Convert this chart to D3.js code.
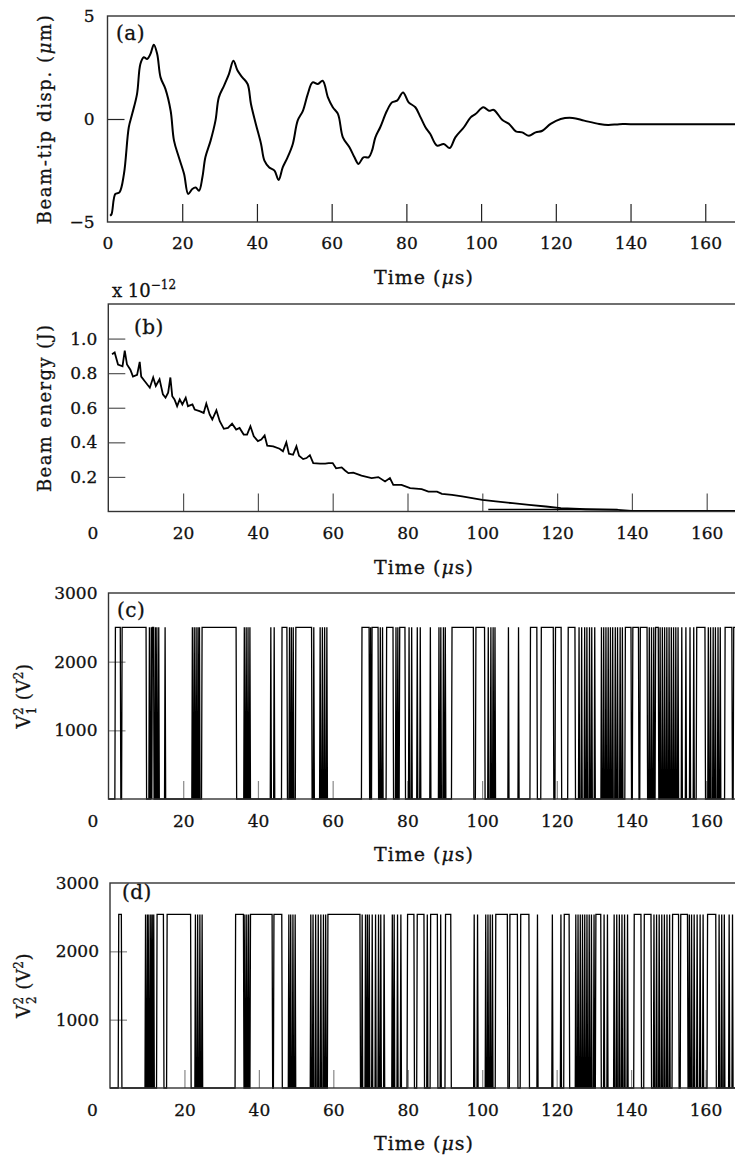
<!DOCTYPE html>
<html>
<head>
<meta charset="utf-8">
<script src="https://cdn.jsdelivr.net/npm/d3@7"></script>
<style>
  body { margin: 0; background: #fff; }
  svg { display: block; }
  text { font-family: "DejaVu Serif", serif; fill: #111; stroke: #111; stroke-width: 0.3; }
</style>
</head>
<body>
<div id="chart"></div>
<script>
// ---- data ----
var xTicks = [0, 20, 40, 60, 80, 100, 120, 140, 160];

// (a) beam-tip displacement (um) vs time (us)
var dispTime = [0.7, 1.1, 2.1, 3.2, 4.4, 5.7, 6.6, 7.9, 8.8, 9.7,
    10.6, 11.5, 12.4, 13.3, 14.2, 15.5, 16.9, 17.8, 19.1, 20.5,
    21.6, 22.7, 23.6, 24.5, 25.4, 26.2, 27.6, 28.9, 29.8, 31.2,
    32.5, 33.7, 34.8, 36.1, 37.5, 38.4, 39.7, 41.1, 42.0, 43.3,
    44.7, 45.8, 46.9, 48.2, 49.6, 50.9, 52.3, 53.6, 54.9, 56.3,
    57.6, 59.0, 60.3, 61.7, 63.0, 64.8, 66.1, 67.2, 68.5, 69.9,
    70.8, 71.7, 73.0, 74.8, 76.2, 77.5, 79.1, 80.6, 82.4, 83.8,
    85.1, 86.4, 88.2, 90.0, 91.6, 93.1, 95.4, 97.2, 98.5, 100.6,
    102.1, 103.4, 105.7, 107.5, 109.3, 111.0, 112.8, 114.6, 116.4, 118.6,
    121.3, 124.5, 127.6, 131.6, 134.0, 137.0, 140, 180];
var dispVal = [-4.7, -4.61, -3.64, -3.56, -2.67, -0.40, 0.24, 1.21, 2.67, 3.0,
    2.91, 3.16, 3.61, 3.16, 2.02, 1.46, 0.40, -1.05, -1.86, -2.67,
    -3.64, -3.40, -3.33, -3.48, -2.83, -1.86, -1.05, -0.08, 1.05, 1.62,
    2.18, 2.83, 2.35, 2.02, 1.70, 0.73, -0.24, -1.21, -2.02, -2.35,
    -2.51, -2.96, -2.35, -1.86, -1.21, -0.08, 0.40, 1.21, 1.78, 1.70,
    1.86, 1.05, 0.57, 0.24, -0.89, -1.38, -1.86, -2.18, -1.86, -1.86,
    -1.54, -0.89, -0.40, 0.40, 0.81, 0.89, 1.29, 0.81, 0.57, 0.08,
    -0.40, -0.73, -1.29, -1.21, -1.41, -0.89, -0.40, 0.08, 0.24, 0.57,
    0.40, 0.44, -0.05, -0.24, -0.60, -0.65, -0.81, -0.65, -0.57, -0.24,
    0.0, 0.05, -0.08, -0.24, -0.29, -0.25, -0.25, -0.25];
var dispTicks = [-5, 0, 5];

// (b) beam energy (x 1e-12 J)
var energyTime = [1.0, 1.7, 2.6, 3.8, 4.4, 5.0, 5.9, 6.6, 7.7, 8.4,
    8.8, 9.7, 11.1, 12.0, 12.7, 13.7, 14.6, 15.3, 16.0, 16.6,
    17.1, 17.7, 18.4, 19.1, 19.8, 20.7, 21.3, 22.5, 23.1, 24.4,
    25.5, 26.2, 27.1, 27.8, 28.9, 29.8, 30.9, 32.0, 33.1, 34.2,
    35.1, 36.2, 37.1, 38.0, 38.9, 40.0, 40.9, 41.8, 42.5, 44.1,
    45.8, 46.7, 47.6, 48.3, 49.4, 50.3, 51.0, 52.1, 53.0, 53.9,
    54.8, 56.6, 58.0, 58.9, 60.0, 60.9, 62.4, 63.3, 64.2, 65.5,
    67.7, 70.4, 72.2, 74.0, 75.3, 76.2, 78.4, 80.7, 83.8, 85.6,
    87.9, 89.2, 91.9, 94.6, 97.3, 100.0, 103.6, 108.1, 112.5, 117.0,
    121.0, 127.7, 136.2, 140, 180];
var energyVal = [0.91, 0.92, 0.85, 0.84, 0.93, 0.85, 0.82, 0.78, 0.79, 0.865,
    0.78, 0.755, 0.716, 0.775, 0.726, 0.765, 0.677, 0.658, 0.687, 0.775,
    0.667, 0.648, 0.609, 0.648, 0.619, 0.658, 0.609, 0.619, 0.590, 0.580,
    0.570, 0.624, 0.561, 0.532, 0.585, 0.522, 0.478, 0.483, 0.508, 0.474,
    0.483, 0.445, 0.445, 0.493, 0.435, 0.407, 0.416, 0.44, 0.381, 0.377,
    0.363, 0.348, 0.40, 0.334, 0.328, 0.377, 0.323, 0.303, 0.309, 0.326,
    0.28, 0.277, 0.277, 0.28, 0.28, 0.25, 0.255, 0.237, 0.222, 0.225,
    0.207, 0.193, 0.199, 0.174, 0.193, 0.154, 0.154, 0.135, 0.129, 0.115,
    0.115, 0.102, 0.096, 0.087, 0.077, 0.067, 0.058, 0.048, 0.038, 0.029,
    0.019, 0.013, 0.009, 0.003, 0.003];
var floorTime = [101.6, 136.2];
var floorVal = [0.012, 0.012];
var energyTicks = [0.2, 0.4, 0.6, 0.8, 1.0];

// (c), (d) squared voltages: switching intervals [on, off] in us (single value = spike)
var v1Level = 2500;
var v1On = [[1.7, 3.0], [3.5, 9.9], [10.8], [11.3], [11.6, 11.9], [12.4], [12.8], [13.3], [15.0],
    [22.3], [22.8], [23.3], [23.8], [24.2], [24.9, 34.0], [36.2], [36.7], [37.2], [37.7],
    [43.3], [44.2], [46.3, 47.6], [48.3], [48.8], [49.3], [50.0, 54.2], [54.8],
    [56.5], [57.1], [57.7], [58.3], [67.7, 69.6], [70.0], [70.4, 72.0], [72.6], [73.2],
    [74.3, 76.0], [76.8], [77.3], [77.8, 79.2], [80.3], [81.0], [82.5], [83.3], [86.0],
    [88.3], [88.8], [89.5], [90.0], [91.8, 97.5], [98.2, 100.5], [101.5], [102.2], [102.8],
    [103.3], [106.9], [109.6], [112.8, 114.5], [115.7, 118.9], [119.5, 121.0], [122.9, 124.7],
    [125.8], [126.5], [127.3], [127.9], [128.6], [129.2], [130.0], [131.8], [132.4], [133.0],
    [133.6], [134.2], [134.8], [135.5], [136.1], [136.8], [137.4], [138.2, 139.7], [140.2, 141.7],
    [142.2, 144.0], [144.6], [145.2], [145.8], [146.3, 147.0], [147.5], [148.1], [148.7], [149.3],
    [149.9], [150.5], [151.1], [151.7], [152.3], [153.3], [154.4], [155.5], [156.5], [157.3, 159.5],
    [160.4], [161.0], [161.7], [162.3], [163.0], [163.6], [164.9, 166.7], [167.2, 175]];
var v2Level = 2540;
var v2On = [[2.2, 2.9], [9.4], [9.9], [10.3], [10.8], [11.2], [11.6], [12.5, 14.2], [15.2, 21.5],
    [22.8], [23.4], [24.0], [24.6], [33.6, 35.7], [36.1], [36.6], [37.1], [37.6, 43.4], [43.9, 46.0],
    [47.9], [48.4], [49.0], [49.6], [53.8], [54.4], [55.1], [55.8], [56.5], [57.2], [57.8],
    [58.4, 67.0], [67.6], [68.5], [69.0], [69.5], [70.3], [71.2], [72.0], [72.6], [73.5], [75.7],
    [76.2], [77.1], [78.0], [79.8, 81.5], [82.4, 84.2], [85.1], [86.0, 87.8], [88.7], [90.0, 91.4],
    [97.7], [98.6], [100.8], [101.4], [102.0], [102.6], [103.5, 106.6], [107.3, 109.3], [110.2, 112.4],
    [114.7], [118.7], [121.0], [121.9, 123.2], [125.0], [125.6], [126.2], [126.8], [127.4], [128.0],
    [128.6], [129.2], [129.9], [130.4, 131.7], [132.6], [133.5], [135.3], [136.0], [136.7], [137.4],
    [138.1], [138.9], [140.7, 142.5], [143.4, 145.2], [146.0], [146.7], [147.4], [148.1], [148.8],
    [149.5], [150.2], [151.0, 152.6], [153.2, 155.0], [155.5], [156.1], [156.8], [157.6], [158.4],
    [159.2], [160.4, 162.6], [163.5], [164.2], [164.9], [166.2], [167.1]];
var voltTicks = [1000, 2000, 3000];

// ---- svg ----
var svgWidth = 735;
var svgHeight = 1158;

var svg = d3.select("#chart")
    .append("svg")
    .attr("width", svgWidth)
    .attr("height", svgHeight);

// turn on/off intervals into a trapezoid trace
function pulsePoints(list, level) {
    var pts = [[0, 0]];
    list.forEach(function(p) {
        var a = p[0], b = p.length > 1 ? p[1] : p[0];
        pts.push([a, 0], [a + 0.15, level], [b + 0.15, level], [b + 0.3, 0]);
    });
    pts.push([180, 0]);
    return pts;
}

function timeTitle(g, y) {
    var t = g.append("text")
        .attr("x", 424)
        .attr("y", y)
        .attr("text-anchor", "middle")
        .attr("font-size", 19)
        .attr("letter-spacing", 1);
    t.append("tspan").text("Time (");
    t.append("tspan").attr("font-style", "italic").text("μ");
    t.append("tspan").text("s)");
}

// draw one panel: frame, inside ticks, labels
function panel(cfg) {
    var g = svg.append("g");
    var x = d3.scaleLinear()
        .domain([0, 180])
        .range([cfg.x0, cfg.x0 + 180 * cfg.k]);
    var y = d3.scaleLinear()
        .domain(cfg.yDomain)
        .range([cfg.bottom, cfg.top]);

    var bottomAxis = d3.axisBottom(x)
        .tickValues(xTicks)
        .tickSize(-18)
        .tickSizeOuter(0)
        .tickPadding(cfg.xPad);
    var leftAxis = d3.axisLeft(y)
        .tickValues(cfg.yTicks)
        .tickSize(-17)
        .tickSizeOuter(0)
        .tickPadding(cfg.yPad)
        .tickFormat(cfg.yFormat);

    var xg = g.append("g")
        .attr("transform", `translate(0, ${cfg.bottom})`)
        .call(bottomAxis)
        .attr("font-size", 17)
        .attr("font-family", "DejaVu Serif");
    xg.select(".domain").remove();
    xg.selectAll("line").attr("stroke", cfg.tickColor).attr("stroke-width", 1.2);
    xg.selectAll(".tick").filter(d => d === 0).select("line").remove();
    xg.selectAll(".tick").filter(d => d === 0).select("text").attr("dx", cfg.zeroDx);

    var yg = g.append("g")
        .attr("transform", `translate(${cfg.x0}, 0)`)
        .call(leftAxis)
        .attr("font-size", 17)
        .attr("font-family", "DejaVu Serif");
    yg.select(".domain").remove();
    yg.selectAll("line").attr("stroke", cfg.tickColor).attr("stroke-width", 1.2);
    yg.selectAll(".tick").filter(d => d === cfg.yDomain[1] || d === cfg.yDomain[0]).select("line").remove();

    // data
    cfg.draw(g, x, y);

    // frame
    g.append("rect")
        .attr("x", cfg.x0)
        .attr("y", cfg.top)
        .attr("width", 800)
        .attr("height", cfg.bottom - cfg.top)
        .attr("fill", "none")
        .attr("stroke", "#333")
        .attr("stroke-width", 1.4);

    // panel tag
    g.append("text")
        .attr("x", cfg.tagX)
        .attr("y", cfg.top + cfg.tagDy)
        .attr("font-size", 20)
        .attr("letter-spacing", 0.5)
        .text(cfg.tag);

    timeTitle(g, cfg.bottom + 62);

    // y title (rotated)
    var yt = g.append("text")
        .attr("transform", `translate(${cfg.yTitleX}, ${(cfg.top + cfg.bottom) / 2}) rotate(-90)`)
        .attr("text-anchor", "middle")
        .attr("dy", "0.35em")
        .attr("font-size", 18)
        .attr("letter-spacing", cfg.yTitleSpacing);
    cfg.yTitle(yt);
    return g;
}

// (a)
panel({
    tag: "(a)", tagX: 116, tagDy: 24,
    x0: 107.5, k: 3.736, top: 16, bottom: 222,
    yDomain: [-5, 5], yTicks: dispTicks, yFormat: d3.format("d"),
    xPad: 15, yPad: 13, zeroDx: 0, tickColor: "#222",
    yTitleX: 45, yTitleSpacing: 1.6,
    yTitle: function(t) {
        t.append("tspan").text("Beam-tip disp. (");
        t.append("tspan").attr("font-style", "italic").text("μ");
        t.append("tspan").text("m)");
    },
    draw: function(g, x, y) {
        var line = d3.line()
            .curve(d3.curveCatmullRom.alpha(0.5))
            .x(d => x(d[0])).y(d => y(d[1]));
        g.append("path")
            .datum(d3.zip(dispTime, dispVal))
            .attr("d", line)
            .attr("fill", "none")
            .attr("stroke", "#000")
            .attr("stroke-width", 2);
    }
});

// (b)
var gb = panel({
    tag: "(b)", tagX: 134, tagDy: 30,
    x0: 108.3, k: 3.74, top: 304, bottom: 511.5,
    yDomain: [0, 1.2], yTicks: energyTicks, yFormat: d3.format(".1f"),
    xPad: 15, yPad: 11, zeroDx: -16, tickColor: "#555",
    yTitleX: 45, yTitleSpacing: 1.4,
    yTitle: function(t) { t.text("Beam energy (J)"); },
    draw: function(g, x, y) {
        var line = d3.line().x(d => x(d[0])).y(d => y(d[1]));
        g.append("path")
            .datum(d3.zip(energyTime, energyVal))
            .attr("d", line)
            .attr("fill", "none")
            .attr("stroke", "#000")
            .attr("stroke-width", 1.8);
        g.append("path")
            .datum(d3.zip(floorTime, floorVal))
            .attr("d", line)
            .attr("fill", "none")
            .attr("stroke", "#000")
            .attr("stroke-width", 1.6);
    }
});
var scale = gb.append("text")
    .attr("x", 112)
    .attr("y", 297)
    .attr("font-size", 18)
    .text("x 10");
scale.append("tspan").attr("font-size", 12).attr("dy", -8).text("−12");

// V^2 title with stacked super/subscript
function voltTitle(sub) {
    return function(t) {
        t.append("tspan").text("V");
        t.append("tspan").attr("font-size", 12).attr("dy", -7).text("2");
        t.append("tspan").attr("font-size", 12).attr("dx", -7.6).attr("dy", 13).text(sub);
        t.append("tspan").attr("dy", -6).text(" (V");
        t.append("tspan").attr("font-size", 12).attr("dy", -7).text("2");
        t.append("tspan").attr("dy", 7).text(")");
    };
}

function pulseDraw(list, level) {
    return function(g, x, y) {
        var line = d3.line().x(d => x(d[0])).y(d => y(d[1]));
        g.append("path")
            .datum(pulsePoints(list, level))
            .attr("d", line)
            .attr("fill", "none")
            .attr("stroke", "#000")
            .attr("stroke-width", 1.3);
    };
}

// (c)
panel({
    tag: "(c)", tagX: 117, tagDy: 24,
    x0: 108.5, k: 3.736, top: 593, bottom: 799,
    yDomain: [0, 3000], yTicks: voltTicks, yFormat: d3.format("d"),
    xPad: 16, yPad: 11, zeroDx: -16, tickColor: "#888",
    yTitleX: 24, yTitleSpacing: 0.5,
    yTitle: voltTitle("1"),
    draw: pulseDraw(v1On, v1Level)
});

// (d)
panel({
    tag: "(d)", tagX: 122, tagDy: 16,
    x0: 110, k: 3.722, top: 883, bottom: 1088,
    yDomain: [0, 3000], yTicks: voltTicks, yFormat: d3.format("d"),
    xPad: 16, yPad: 11, zeroDx: -18, tickColor: "#888",
    yTitleX: 24, yTitleSpacing: 0.5,
    yTitle: voltTitle("2"),
    draw: pulseDraw(v2On, v2Level)
});
</script>
</body>
</html>
